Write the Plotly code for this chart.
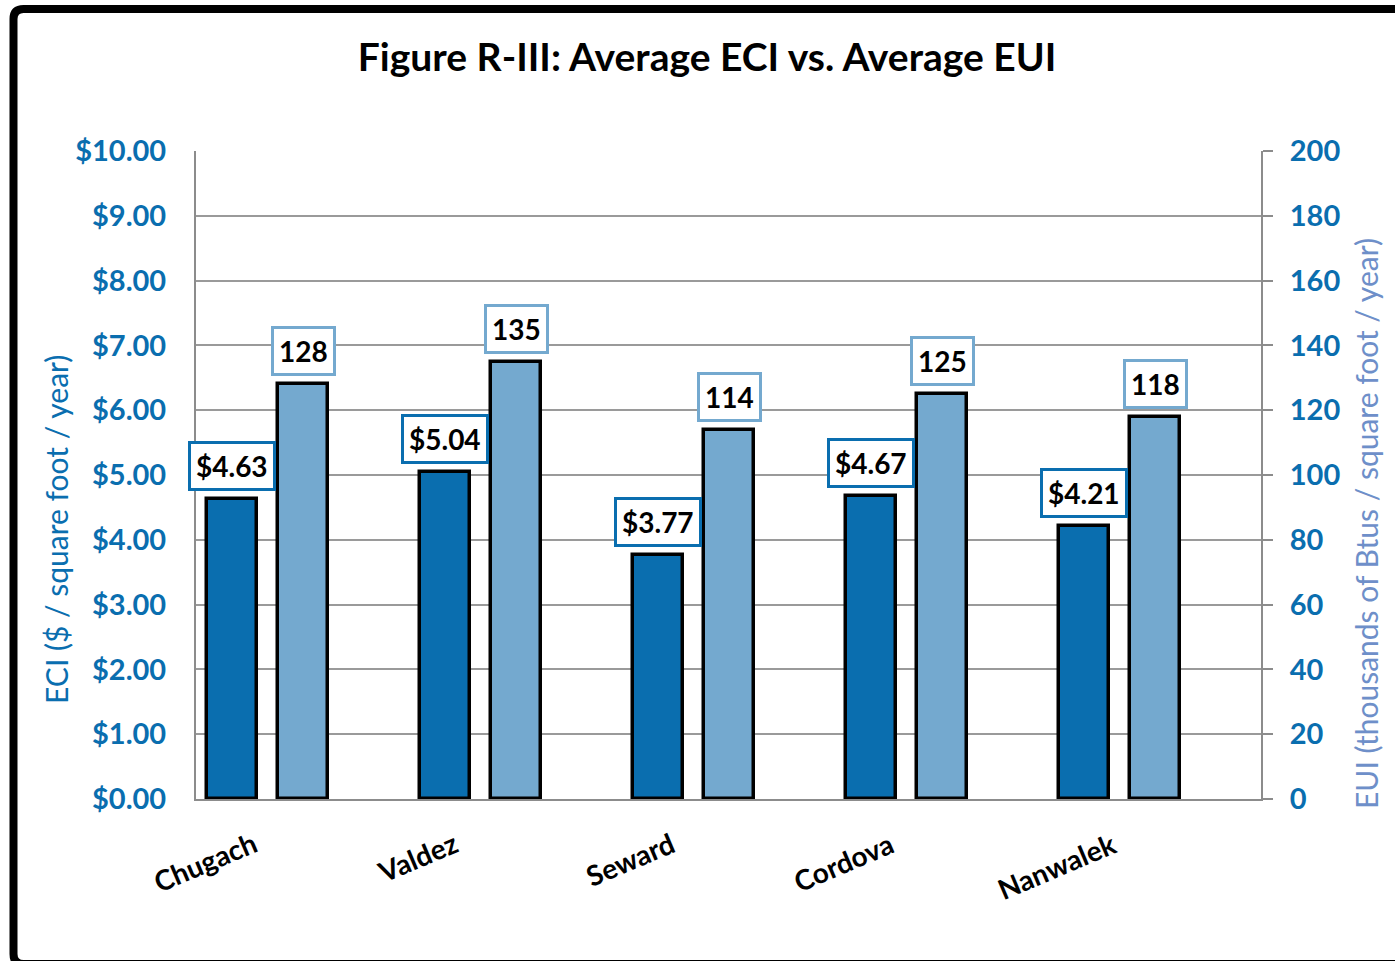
import plotly.graph_objects as go

categories = ["Chugach", "Valdez", "Seward", "Cordova", "Nanwalek"]
eci = [4.63, 5.04, 3.77, 4.67, 4.21]
eui = [128, 135, 114, 125, 118]
eci_ticks = [0, 1, 2, 3, 4, 5, 6, 7, 8, 9, 10]
eui_ticks = [0, 20, 40, 60, 80, 100, 120, 140, 160, 180, 200]

W, H = 1395, 961
ML, MR, MT, MB = 196, 134, 151, 162
PW, PH = W - ML - MR, H - MT - MB

DARK = "#0A6EAF"
LIGHT = "#74A9CF"
FONT = "Lato"

idx = list(range(len(categories)))
BW = 0.235
OFF_D = -0.448
OFF_L = -0.115

fig = go.Figure()
fig.add_trace(go.Bar(
    x=idx, y=eci, width=BW, offset=OFF_D, name="ECI",
    marker=dict(color=DARK, line=dict(color="black", width=3.5)),
    yaxis="y", hoverinfo="skip",
))
fig.add_trace(go.Bar(
    x=idx, y=eui, width=BW, offset=OFF_L, name="EUI",
    marker=dict(color=LIGHT, line=dict(color="black", width=3.5)),
    yaxis="y2", hoverinfo="skip",
))


def px2x(px):
    return (px - ML) / PW


def py2y(py):
    return 1 - (py - MT) / PH


annotations = []
for i, v in zip(idx, eci):
    annotations.append(dict(
        x=i + OFF_D + BW / 2, y=v, xref="x", yref="y", text=f"<b>${v:.2f}</b>",
        showarrow=False, yanchor="bottom", yshift=8,
        font=dict(family=FONT, size=28, color="black"),
        bgcolor="white", bordercolor=DARK, borderwidth=3, borderpad=5,
    ))
for i, v in zip(idx, eui):
    annotations.append(dict(
        x=i + OFF_L + BW / 2, y=v, xref="x", yref="y2", text=f"<b>{v}</b>",
        showarrow=False, yanchor="bottom", yshift=8,
        font=dict(family=FONT, size=28, color="black"),
        bgcolor="white", bordercolor=LIGHT, borderwidth=3, borderpad=5,
    ))

# category labels (rotated, centred like the original)
for i, name in zip(idx, categories):
    annotations.append(dict(
        x=i - 0.46, y=py2y(823), xref="x", yref="paper", showarrow=False,
        text=f"<b>{name}</b>", textangle=-23, xanchor="center", yanchor="top",
        font=dict(family=FONT, size=28, color="black"),
    ))

# axis titles
annotations.append(dict(
    x=px2x(56), y=py2y(530), xref="paper", yref="paper", showarrow=False,
    text="ECI ($ / square foot / year)", textangle=-90,
    xanchor="center", yanchor="middle",
    font=dict(family=FONT, size=30, color=DARK),
))
annotations.append(dict(
    x=px2x(1366), y=py2y(524), xref="paper", yref="paper", showarrow=False,
    text="EUI (thousands of Btus / square foot / year)", textangle=-90,
    xanchor="center", yanchor="middle",
    font=dict(family=FONT, size=30, color="#6E8FC9"),
))

# outer chart frame (decoration)
x0, y0, x1, y1, r = 13.5, 9, 1420, 964, 10
path = (f"M {px2x(x0 + r)},{py2y(y0)} L {px2x(x1)},{py2y(y0)} L {px2x(x1)},{py2y(y1)} "
        f"L {px2x(x0 + r)},{py2y(y1)} Q {px2x(x0)},{py2y(y1)} {px2x(x0)},{py2y(y1 - r)} "
        f"L {px2x(x0)},{py2y(y0 + r)} Q {px2x(x0)},{py2y(y0)} {px2x(x0 + r)},{py2y(y0)} Z")
shapes = [dict(type="path", xref="paper", yref="paper", path=path,
               line=dict(color="black", width=8), layer="above")]

fig.update_layout(
    width=W, height=H,
    margin=dict(l=ML, r=MR, t=MT, b=MB),
    paper_bgcolor="white", plot_bgcolor="white",
    showlegend=False,
    bargap=0,
    title=dict(text="<b>Figure R-III: Average ECI vs. Average EUI</b>",
               x=px2x(707), xanchor="center", xref="paper",
               y=1 - 57 / H, yanchor="middle", yref="container",
               font=dict(family=FONT, size=39, color="black")),
    xaxis=dict(
        range=[-0.5, 4.5], tickmode="array", tickvals=idx,
        showticklabels=False, showgrid=False, zeroline=False,
        showline=True, linecolor="#8C8C8C", linewidth=2, ticks="",
    ),
    yaxis=dict(
        range=[0, 10], tickmode="array", tickvals=eci_ticks,
        ticktext=[f"${t:.2f}" for t in eci_ticks],
        showgrid=True, gridcolor="#9A9A9A", gridwidth=1.5,
        zeroline=False, showline=True, linecolor="#8C8C8C", linewidth=2,
        ticks="", ticklabelstandoff=22,
        tickfont=dict(family=FONT, size=29, color=DARK, weight="bold"),
    ),
    yaxis2=dict(
        range=[0, 200], tickmode="array", tickvals=eui_ticks,
        overlaying="y", side="right", showgrid=False, zeroline=False,
        showline=True, linecolor="#8C8C8C", linewidth=2,
        ticks="outside", ticklen=10, tickcolor="#8C8C8C", tickwidth=2,
        ticklabelstandoff=11,
        tickfont=dict(family=FONT, size=29, color=DARK, weight="bold"),
    ),
    annotations=annotations,
    shapes=shapes,
)

fig.write_html("out.html")
